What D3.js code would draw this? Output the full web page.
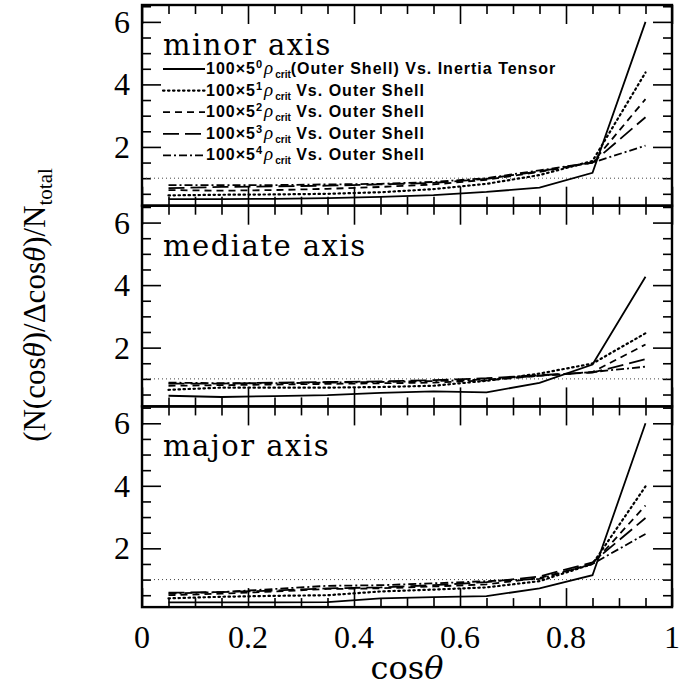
<!DOCTYPE html>
<html>
<head>
<meta charset="utf-8">
<script src="https://cdn.jsdelivr.net/npm/d3@7"></script>
<style>
  body { margin: 0; background: #fff; }
  svg { display: block; }
</style>
</head>
<body>
<div id="chart"></div>
<script>
// bin centres in cos(theta)
const cosBins = [0.05, 0.15, 0.25, 0.35, 0.45, 0.55, 0.65, 0.75, 0.85, 0.95];

// each panel: 5 series (100x5^0 .. 100x5^4)
const minorAxis = [
  [0.33, 0.33, 0.34, 0.36, 0.40, 0.46, 0.56, 0.70, 1.17, 6.0],
  [0.45, 0.47, 0.48, 0.50, 0.55, 0.65, 0.82, 1.10, 1.55, 4.38],
  [0.62, 0.60, 0.62, 0.66, 0.72, 0.80, 0.95, 1.20, 1.50, 3.53],
  [0.68, 0.72, 0.74, 0.76, 0.80, 0.85, 0.98, 1.22, 1.50, 2.95],
  [0.78, 0.78, 0.78, 0.80, 0.82, 0.88, 1.00, 1.25, 1.50, 2.04]
];
const mediateAxis = [
  [0.46, 0.42, 0.45, 0.48, 0.55, 0.60, 0.57, 0.87, 1.46, 4.27],
  [0.65, 0.72, 0.72, 0.72, 0.74, 0.78, 0.94, 1.17, 1.49, 2.46],
  [0.78, 0.80, 0.82, 0.84, 0.86, 0.88, 0.95, 1.10, 1.22, 2.10],
  [0.85, 0.85, 0.88, 0.90, 0.92, 0.96, 1.02, 1.12, 1.20, 1.63],
  [0.88, 0.86, 0.86, 0.88, 0.90, 0.93, 0.98, 1.10, 1.22, 1.39]
];
const majorAxis = [
  [0.27, 0.27, 0.27, 0.28, 0.40, 0.44, 0.47, 0.72, 1.14, 6.0],
  [0.40, 0.45, 0.48, 0.50, 0.62, 0.68, 0.75, 0.95, 1.50, 3.98],
  [0.50, 0.55, 0.62, 0.70, 0.72, 0.78, 0.85, 1.05, 1.50, 3.37],
  [0.58, 0.60, 0.65, 0.72, 0.75, 0.82, 0.92, 1.10, 1.55, 2.97],
  [0.55, 0.60, 0.70, 0.80, 0.82, 0.88, 0.95, 1.02, 1.50, 2.46]
];

const panelNames = ["minor axis", "mediate axis", "major axis"];
const legendPow = ["0", "1", "2", "3", "4"];
const legendTail = ["(Outer Shell) Vs. Inertia Tensor", " Vs. Outer Shell", " Vs. Outer Shell", " Vs. Outer Shell", " Vs. Outer Shell"];
const xTicks = [0, 0.2, 0.4, 0.6, 0.8, 1];
const yTicks = [2, 4, 6];

const width = 679, height = 686;
const margin = {left: 142, right: 672, top: 5};
const panelH = 200.7;
const dashes = [null, "1.5 3.5", "7 5", "16 6", "8 3 2 3"];
const serif = "'Liberation Serif', 'DejaVu Serif', serif";
const wideSerif = "'DejaVu Serif', serif";

const svg = d3.select("#chart").append("svg")
  .attr("width", width)
  .attr("height", height);

const x = d3.scaleLinear().domain([0, 1]).range([margin.left, margin.right]);

[minorAxis, mediateAxis, majorAxis].forEach((series, p) => {
  const y0 = margin.top + p * panelH;
  const y = d3.scaleLinear().domain([0.12, 6.54]).range([y0 + panelH, y0]);
  const g = svg.append("g");

  // ticks (inward, minor + major) on all four sides
  const minorX = d3.range(0, 1.0001, 0.05).filter(v => Math.abs(v * 5 - Math.round(v * 5)) > 1e-6);
  const minorY = d3.range(0.5, 6.6, 0.5).filter(v => v % 2 !== 0);
  const tick = (axis, vals, size, tr) => {
    const a = g.append("g").attr("transform", tr)
      .call(axis.tickValues(vals).tickSize(size).tickFormat(""));
    a.select(".domain").remove();
    a.selectAll("line").attr("stroke", "#000").attr("stroke-width", 1.6);
  };
  tick(d3.axisBottom(x), minorX, -9, `translate(0,${y0 + panelH})`);
  tick(d3.axisBottom(x), xTicks, -19, `translate(0,${y0 + panelH})`);
  tick(d3.axisTop(x), minorX, -9, `translate(0,${y0})`);
  tick(d3.axisTop(x), xTicks, -19, `translate(0,${y0})`);
  tick(d3.axisLeft(y), minorY, -9, `translate(${margin.left},0)`);
  tick(d3.axisLeft(y), yTicks, -19, `translate(${margin.left},0)`);
  tick(d3.axisRight(y), minorY, -9, `translate(${margin.right},0)`);
  tick(d3.axisRight(y), yTicks, -19, `translate(${margin.right},0)`);

  // y labels
  g.selectAll(".ylab").data(yTicks).join("text")
    .attr("x", margin.left - 12)
    .attr("y", d => y(d) + 11)
    .attr("text-anchor", "end")
    .attr("font-family", serif)
    .attr("font-size", 32)
    .text(d => d);

  // reference line at 1
  g.append("line")
    .attr("x1", margin.left).attr("x2", margin.right)
    .attr("y1", y(1)).attr("y2", y(1))
    .attr("stroke", "#444").attr("stroke-width", 1)
    .attr("stroke-dasharray", "1 3");

  const line = d3.line().x((d, i) => x(cosBins[i])).y(d => y(d));
  g.selectAll(".series").data(series).join("path")
    .attr("d", d => line(d))
    .attr("fill", "none")
    .attr("stroke", "#000")
    .attr("stroke-width", (d, i) => i === 1 ? 2.2 : 1.8)
    .attr("stroke-linecap", (d, i) => i === 1 ? "round" : "butt")
    .attr("stroke-dasharray", (d, i) => dashes[i]);

  g.append("text")
    .attr("x", 163).attr("y", y0 + 50)
    .attr("font-family", wideSerif)
    .attr("font-size", 29)
    .attr("letter-spacing", 1.5)
    .text(panelNames[p]);

  // frame
  g.append("rect")
    .attr("x", margin.left).attr("y", y0)
    .attr("width", margin.right - margin.left).attr("height", panelH)
    .attr("fill", "none").attr("stroke", "#000").attr("stroke-width", 2.4);
});

// legend (top panel)
const leg = svg.append("g");
legendPow.forEach((pw, i) => {
  const ly = 68 + i * 21.6;
  leg.append("line")
    .attr("x1", 163).attr("x2", 205)
    .attr("y1", ly + 1).attr("y2", ly + 1)
    .attr("stroke", "#000")
    .attr("stroke-width", i === 1 ? 2.2 : 1.8)
    .attr("stroke-linecap", i === 1 ? "round" : "butt")
    .attr("stroke-dasharray", dashes[i]);
  const t = leg.append("text")
    .attr("x", 206).attr("y", ly + 6)
    .attr("font-family", "'Liberation Sans', Arial, sans-serif")
    .attr("font-weight", "bold")
    .attr("font-size", 16)
    .attr("letter-spacing", 1);
  t.append("tspan").text("100×5");
  t.append("tspan").attr("dy", -6).attr("font-size", 11).text(pw);
  t.append("tspan").attr("dx", 1).attr("dy", 6).attr("font-style", "italic").attr("font-weight", "normal")
    .attr("font-family", serif).attr("font-size", 19).text("ρ");
  t.append("tspan").attr("dx", 1).attr("dy", 4).attr("font-size", 10).attr("letter-spacing", 0).text("crit");
  t.append("tspan").attr("dy", -4).text(legendTail[i]);
});

// x tick labels
svg.selectAll(".xlab").data(xTicks).join("text")
  .attr("x", d => x(d))
  .attr("y", 648)
  .attr("text-anchor", "middle")
  .attr("font-family", serif)
  .attr("font-size", 32)
  .text(d => d);

// x title
const xt = svg.append("text")
  .attr("x", 407).attr("y", 679)
  .attr("text-anchor", "middle")
  .attr("font-family", wideSerif)
  .attr("font-size", 32);
xt.append("tspan").text("cos");
xt.append("tspan").attr("font-style", "italic").text("θ");

// y title
const yt = svg.append("text")
  .attr("transform", "translate(45,305) rotate(-90)")
  .attr("text-anchor", "middle")
  .attr("font-family", serif)
  .attr("font-size", 31);
yt.append("tspan").text("(N(cos");
yt.append("tspan").attr("font-style", "italic").text("θ");
yt.append("tspan").text(")/Δcos");
yt.append("tspan").attr("font-style", "italic").text("θ");
yt.append("tspan").text(")/N");
yt.append("tspan").attr("dy", 7).attr("font-size", 21).text("total");
</script>
</body>
</html>
